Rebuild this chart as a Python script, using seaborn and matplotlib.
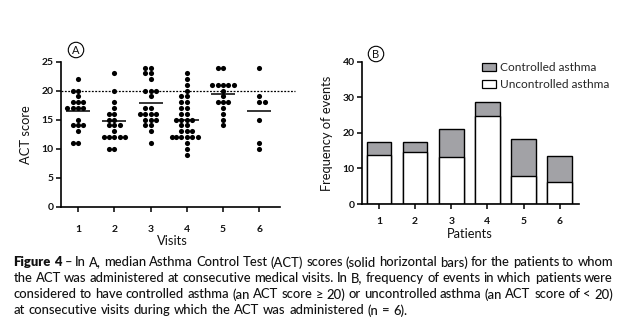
import matplotlib
matplotlib.use("Agg")
import matplotlib.pyplot as plt
import seaborn as sns
import pandas as pd
import numpy as np
from matplotlib.patches import Patch

sns.set_theme(style="ticks")
plt.rcParams['font.family'] = ['Lato', 'DejaVu Sans']

# ---------------- data ----------------
visit_labels = ["1", "2", "3", "4", "5", "6"]
visit1 = [22, 20, 20, 19, 18, 18, 18, 17, 17, 17, 17, 15, 14, 14, 14, 13, 11, 11]
visit2 = [23, 20, 18, 17, 16, 16, 15, 15, 14, 14, 14, 13, 12, 12, 12, 12, 12, 10, 10]
visit3 = [24, 24, 23, 23, 22, 20, 20, 20, 19, 17, 17, 16, 16, 16, 16, 15, 15, 15, 14, 14, 13, 11]
visit4 = [23, 22, 21, 20, 19, 19, 18, 18, 17, 17, 16, 16, 15, 15, 15, 15, 14, 14,
          13, 13, 13, 12, 12, 12, 12, 12, 12, 11, 10, 9]
visit5 = [24, 24, 21, 21, 21, 21, 21, 20, 19, 18, 18, 18, 17, 16, 15, 14]
visit6 = [24, 19, 18, 18, 15, 11, 10]
medians = [16.5, 14.7, 17.9, 15.0, 19.4, 16.5]
act_cutoff = 20

patient_labels = ["1", "2", "3", "4", "5", "6"]
uncontrolled = [13.7, 14.5, 13.1, 24.6, 7.9, 6.1]
controlled = [3.6, 2.8, 7.9, 4.0, 10.3, 7.3]

caption_lines = [
    "Figure 4 \u2013 In A, median Asthma Control Test (ACT) scores (solid horizontal bars) for the patients to whom",
    "the ACT was administered at consecutive medical visits. In B, frequency of events in which patients were",
    "considered to have controlled asthma (an ACT score \u2265 20) or uncontrolled asthma (an ACT score of < 20)",
    "at consecutive visits during which the ACT was administered (n = 6).",
]

# ---------------- figure ----------------
W, H = 630, 335
fig = plt.figure(figsize=(W / 100, H / 100), dpi=100)
fig.patch.set_facecolor("white")

def fbox(l, r, t, b):
    return [l / W, 1 - b / H, (r - l) / W, (b - t) / H]

ink = "#111111"
tick_fs = 7.5
label_fs = 9.3

# ----- panel A -----
axA = fig.add_axes(fbox(61, 280, 61.7, 206.7))
rows = []
for lab, vals in zip(visit_labels, [visit1, visit2, visit3, visit4, visit5, visit6]):
    rows += [(lab, v) for v in vals]
dfA = pd.DataFrame(rows, columns=["Visit", "ACT"])
sns.swarmplot(data=dfA, x="Visit", y="ACT", order=visit_labels, color="black",
              size=3.7, ax=axA, linewidth=0)
pos = np.arange(len(visit_labels))
axA.hlines(medians, pos - 0.33, pos + 0.33, color="black", lw=1.1, zorder=3)
axA.axhline(act_cutoff, xmin=0, xmax=1.07, color="black", lw=0.9, ls=(0, (1.5, 1.2)),
            clip_on=False, zorder=1)
axA.set_xlim(-0.47, 5.57)
axA.set_ylim(0, 25)
axA.set_yticks([0, 5, 10, 15, 20, 25])
axA.set_xlabel("Visits", fontsize=label_fs, color=ink)
axA.xaxis.set_label_coords(0.507, -0.195)
axA.set_ylabel("ACT score", fontsize=label_fs, color=ink, labelpad=7)

# ----- panel B -----
axB = fig.add_axes(fbox(362.3, 579.3, 61.7, 204))
total = [u + c for u, c in zip(uncontrolled, controlled)]
dfB = pd.DataFrame({"Patient": patient_labels, "Total": total, "Uncontrolled": uncontrolled})
sns.barplot(data=dfB, x="Patient", y="Total", color="#a2a2a6", edgecolor="black",
            linewidth=1.0, width=0.68, ax=axB, saturation=1)
sns.barplot(data=dfB, x="Patient", y="Uncontrolled", color="white", edgecolor="black",
            linewidth=1.0, width=0.68, ax=axB, saturation=1)
axB.set_xlim(-0.46, 5.54)
axB.set_ylim(0, 40)
axB.set_yticks([0, 10, 20, 30, 40])
axB.set_xlabel("Patients", fontsize=label_fs, color=ink)
axB.xaxis.set_label_coords(0.496, -0.172)
axB.set_ylabel("Frequency of events", fontsize=label_fs, color=ink, labelpad=7)
handles = [Patch(facecolor="#a2a2a6", edgecolor="black", lw=0.9, label="Controlled asthma"),
           Patch(facecolor="white", edgecolor="black", lw=0.9, label="Uncontrolled asthma")]
fig.legend(handles=handles, loc="upper left", bbox_to_anchor=(482 / W, 1 - 62 / H),
           frameon=False, fontsize=8.6, handlelength=1.2, handleheight=0.7,
           handletextpad=0.3, labelspacing=0.5, borderaxespad=0, borderpad=0)

for ax, xpad in ((axA, 10), (axB, 6)):
    sns.despine(ax=ax)
    for s in ("left", "bottom"):
        ax.spines[s].set_linewidth(1.2)
        ax.spines[s].set_color("black")
    ax.tick_params(axis="both", direction="out", length=3.5, width=1.1, color="black",
                   labelsize=tick_fs, labelcolor=ink, pad=2)
    ax.tick_params(axis="x", pad=xpad)
    for t in ax.get_xticklabels() + ax.get_yticklabels():
        t.set_fontweight("bold")
    ax.set_facecolor("white")

# panel letters
for x, y, s in [(76, 50, "A"), (376, 54, "B")]:
    fig.text(x / W, 1 - y / H, s, fontsize=8, ha="center", va="center", color=ink,
             bbox=dict(boxstyle="circle,pad=0.2", fc="white", ec="black", lw=0.8))

# ----- caption (justified) -----
fig.canvas.draw()
rend = fig.canvas.get_renderer()
cap_fs = 9.35
x_left, x_right = 13.5, 613
ys = [262.5, 278.5, 294.5, 310.5]
for li, (line, yc) in enumerate(zip(caption_lines, ys)):
    words = line.split(" ")
    objs = []
    for wi, w in enumerate(words):
        bold = (li == 0 and wi < 2)
        t = fig.text(0, 1 - yc / H, w, fontsize=cap_fs, color=ink, va="center", ha="left",
                     fontweight="heavy" if bold else "medium")
        objs.append(t)
    widths = [o.get_window_extent(rend).width for o in objs]
    justify = li < 3
    if justify:
        gap = (x_right - x_left - sum(widths)) / (len(words) - 1)
    else:
        gap = 3.6
    x = x_left
    for o, wdt in zip(objs, widths):
        o.set_x(x / W)
        x += wdt + gap

fig.savefig("out.png", dpi=100, facecolor="white")
